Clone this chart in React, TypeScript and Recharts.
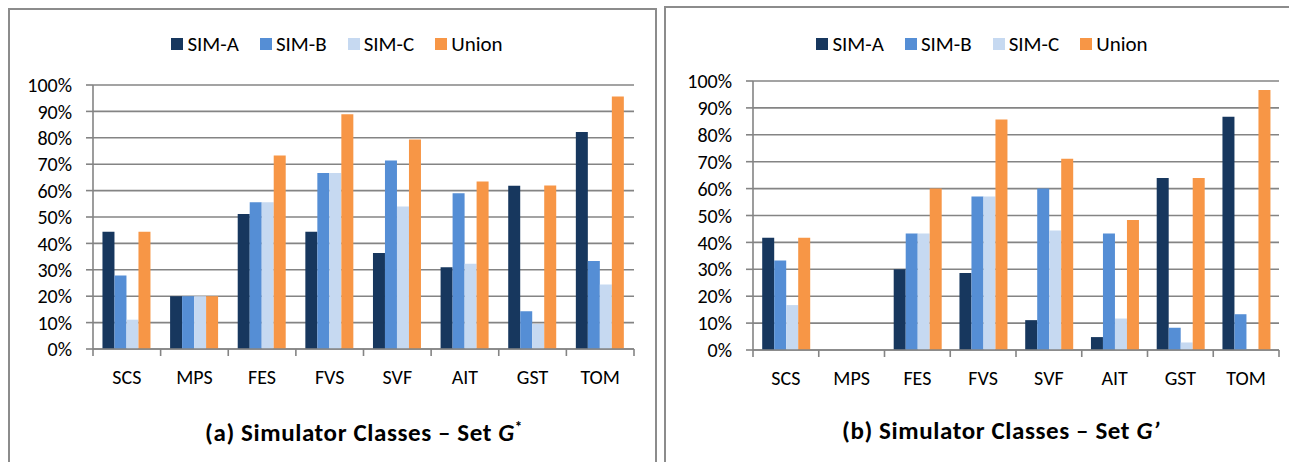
import { BarChart, Bar, XAxis, YAxis, CartesianGrid, Legend } from "recharts";

const categories = ["SCS", "MPS", "FES", "FVS", "SVF", "AIT", "GST", "TOM"];
const seriesNames = ["SIM-A", "SIM-B", "SIM-C", "Union"];
const yTicks = [0, 10, 20, 30, 40, 50, 60, 70, 80, 90, 100];

// (a) Set G*
const gStarSimA = [44.4, 20, 51.1, 44.4, 36.4, 31, 61.8, 82.2];
const gStarSimB = [27.8, 20, 55.6, 66.7, 71.4, 59, 14.3, 33.3];
const gStarSimC = [11.1, 20, 55.6, 66.7, 54, 32.3, 9.5, 24.4];
const gStarUnion = [44.4, 20, 73.3, 88.9, 79.4, 63.4, 61.9, 95.6];

// (b) Set G'
const gPrimeSimA = [41.7, 0, 30, 28.6, 11.1, 4.8, 63.9, 86.7];
const gPrimeSimB = [33.3, 0, 43.3, 57.1, 60, 43.3, 8.3, 13.3];
const gPrimeSimC = [16.7, 0, 43.3, 57.1, 44.4, 11.7, 2.8, 0];
const gPrimeUnion = [41.7, 0, 60, 85.7, 71.1, 48.3, 63.9, 96.7];

const COLORS = ["#17375e", "#558ed5", "#c6d9f1", "#f79646"];
const KEYS = ["a", "b", "c", "u"];
const GRID = "#848484";
const FONT = "Carlito, Lato, 'Open Sans', sans-serif";
const TICK_SIZE = 7;
const TICK_MARGIN = 14;

const buildRows = (a: number[], b: number[], c: number[], u: number[]) =>
  categories.map((name, i) => ({ name, a: a[i], b: b[i], c: c[i], u: u[i] }));

const gStarRows = buildRows(gStarSimA, gStarSimB, gStarSimC, gStarUnion);
const gPrimeRows = buildRows(gPrimeSimA, gPrimeSimB, gPrimeSimC, gPrimeUnion);

function CategoryTick(props: any) {
  const { x, y, payload, index, visibleTicksCount } = props;
  const half = payload?.offset ?? 0;
  const axisY = y - TICK_SIZE - TICK_MARGIN;
  return (
    <g>
      <line x1={x - half} x2={x - half} y1={axisY} y2={axisY + TICK_SIZE} stroke={GRID} strokeWidth={1.6} />
      {index === visibleTicksCount - 1 && (
        <line x1={x + half} x2={x + half} y1={axisY} y2={axisY + TICK_SIZE} stroke={GRID} strokeWidth={1.6} />
      )}
      <text x={x} y={y} dy="0.71em" textAnchor="middle" fill="#000" fontSize={20} fontFamily={FONT}>
        {payload.value}
      </text>
    </g>
  );
}

function LegendContent({ payload }: any) {
  return (
    <div style={{ display: "flex", justifyContent: "center", gap: 21, fontFamily: FONT, fontSize: 21 }}>
      {(payload || []).map((entry: any) => (
        <div key={entry.value} style={{ display: "flex", alignItems: "center" }}>
          <span style={{ width: 12, height: 12, background: entry.color, marginRight: 4, display: "inline-block" }} />
          <span style={{ color: "#000", lineHeight: "22px" }}>{entry.value}</span>
        </div>
      ))}
    </div>
  );
}

interface PanelProps {
  data: any[];
  left: number;
  width: number;
  margin: { top: number; right: number; bottom: number; left: number };
  legendWidth: number;
}

function Panel({ data, left, width, margin, legendWidth }: PanelProps) {
  return (
    <div style={{ position: "absolute", left, top: 0 }}>
      <BarChart width={width} height={400} data={data} margin={margin} barCategoryGap="14%" barGap={0}>
        <CartesianGrid vertical={false} stroke={GRID} strokeWidth={1.6} />
        <XAxis
          dataKey="name"
          interval={0}
          height={40}
          tickLine={false}
          tickSize={TICK_SIZE}
          tickMargin={TICK_MARGIN}
          axisLine={{ stroke: GRID, strokeWidth: 1.6 }}
          tick={(p: any) => <CategoryTick {...p} />}
        />
        <YAxis
          width={60}
          domain={[0, 100]}
          ticks={yTicks}
          interval={0}
          tickFormatter={(v) => `${v}%`}
          tickSize={TICK_SIZE}
          tickMargin={14}
          tickLine={{ stroke: GRID, strokeWidth: 1.6 }}
          axisLine={{ stroke: GRID, strokeWidth: 1.6 }}
          tick={{ fill: "#000", fontSize: 20, fontFamily: FONT }}
        />
        <Legend
          verticalAlign="middle"
          align="center"
          wrapperStyle={{ top: 33, left: 0, width: legendWidth }}
          content={(p: any) => <LegendContent {...p} />}
        />
        {KEYS.map((k, i) => (
          <Bar key={k} dataKey={k} name={seriesNames[i]} fill={COLORS[i]} isAnimationActive={false} />
        ))}
      </BarChart>
    </div>
  );
}

export default function App() {
  const titleStyle: React.CSSProperties = {
    position: "absolute",
    fontFamily: FONT,
    fontWeight: 700,
    fontSize: 25,
    letterSpacing: 0.6,
    lineHeight: "26px",
    whiteSpace: "nowrap",
    transform: "translateX(-50%)",
    color: "#000",
  };
  return (
    <div style={{ position: "absolute", left: 0, top: 0, width: 1289, height: 462, overflow: "hidden", background: "#fff" }}>
      <div style={{ position: "absolute", left: 8, top: 8, width: 649, height: 470, border: "2px solid #8c8c8c", boxSizing: "border-box" }} />
      <div style={{ position: "absolute", left: 664, top: 6, width: 700, height: 470, border: "2px solid #8c8c8c", boxSizing: "border-box" }} />

      <Panel data={gStarRows} left={0} width={656} margin={{ top: 85, right: 22, bottom: 11, left: 33 }} legendWidth={674} />
      <Panel data={gPrimeRows} left={665} width={624} margin={{ top: 81, right: 10, bottom: 10, left: 28 }} legendWidth={634} />

      <div style={{ ...titleStyle, left: 364, top: 414 }}>
        (a) Simulator Classes – Set <i>G</i>
        <sup style={{ fontSize: 15 }}>*</sup>
      </div>
      <div style={{ ...titleStyle, left: 1001, top: 418 }}>
        (b) Simulator Classes – Set <i>G’</i>
      </div>
    </div>
  );
}
